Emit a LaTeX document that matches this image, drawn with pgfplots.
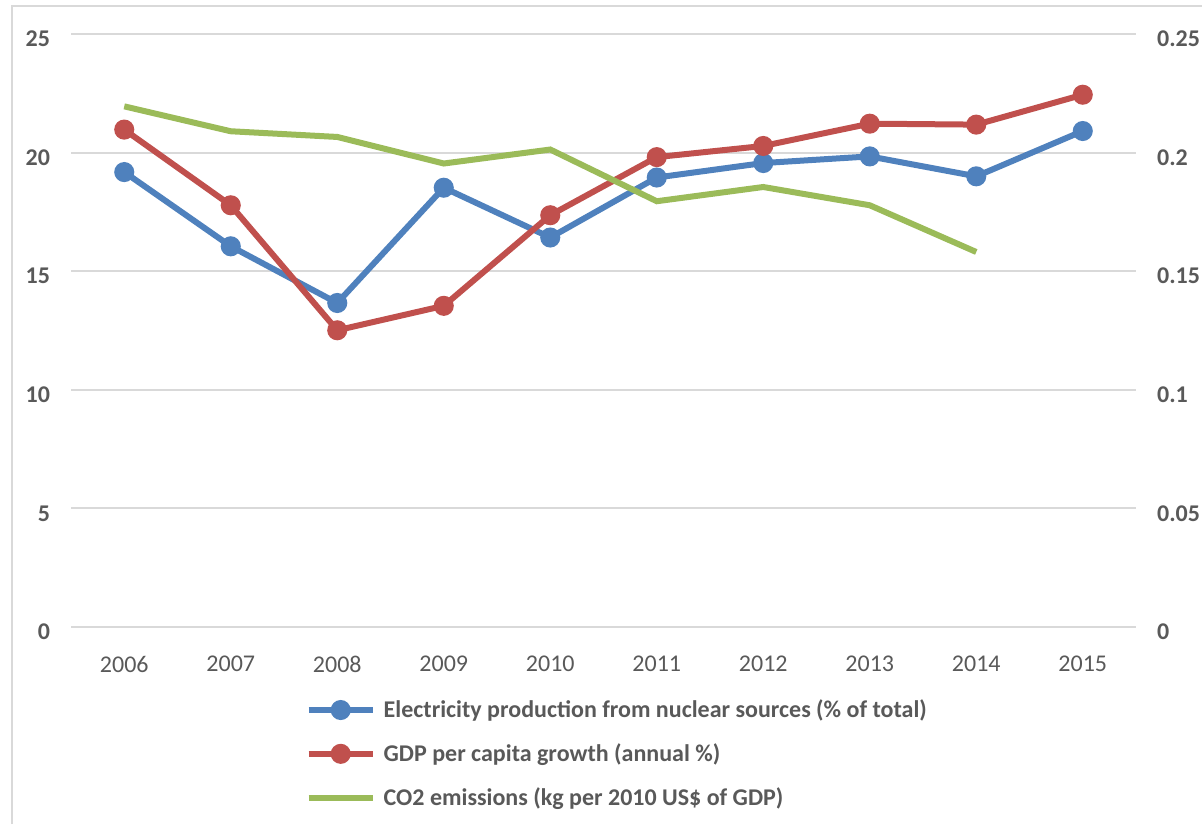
\documentclass[border=0pt]{standalone}
\usepackage{pgfplots}
\pgfplotsset{compat=1.18}
\usepackage{fontspec}
\setmainfont{Carlito}
\definecolor{cblue}{HTML}{4F81BD}
\definecolor{cred}{HTML}{C0504D}
\definecolor{cgreen}{HTML}{9BBB59}
\definecolor{ctext}{HTML}{595959}
\definecolor{cgrid}{HTML}{D9D9D9}
\begin{document}
\begin{tikzpicture}
\path[use as bounding box] (0pt,0pt) rectangle (601pt,-412pt);
\draw[cgrid, line width=1pt] (6pt,-412pt) -- (6pt,-3pt) -- (601pt,-3pt);
\begin{axis}[
  at={(35.5pt,-313.5pt)}, anchor=south west,
  scale only axis, width=532.5pt, height=296.5pt,
  xmin=-0.5, xmax=9.5, ymin=0, ymax=25,
  xtick={0,...,9},
  xticklabels={2006,2007,2008,2009,2010,2011,2012,2013,2014,2015},
  ytick={0,5,10,15,20,25},
  yticklabels={0,5,10,15,20,25},
  /pgf/number format/assume math mode=true,
  axis line style={draw=none},
  tick style={draw=none},
  ymajorgrids, grid style={cgrid, line width=1pt},
  xticklabel style={font=\fontsize{12}{14}\selectfont, text=ctext, yshift=-11pt},
  yticklabel style={font=\fontsize{12}{14}\selectfont\bfseries, text=ctext, xshift=-7pt, yshift=-2.5pt},
  clip=false,
  legend cell align=left,
  legend style={at={(axis description cs:0.22,-0.115)}, anchor=north west,
    draw=none, fill=none, inner sep=0pt,
    font=\fontsize{12}{14}\selectfont\bfseries, text=ctext,
    row sep=7.5pt, nodes={inner xsep=4pt}},
  legend image code/.code={\draw[#1, mark repeat=2, mark phase=2] plot coordinates {(0pt,0pt) (16pt,0pt) (32pt,0pt)};},
]
\addplot[cblue, line width=3pt, mark=*, mark size=3.5pt, mark options={solid}] coordinates {
(0,19.18) (1,16.05) (2,13.66) (3,18.52) (4,16.42) (5,18.95) (6,19.56) (7,19.84) (8,19.00) (9,20.91)};
\addlegendentry{Electricity production from nuclear sources (\% of total)}
\addplot[cred, line width=3pt, mark=*, mark size=3.5pt, mark options={solid}] coordinates {
(0,20.97) (1,17.78) (2,12.51) (3,13.54) (4,17.36) (5,19.81) (6,20.28) (7,21.22) (8,21.18) (9,22.44)};
\addlegendentry{GDP per capita growth (annual \%)}
\addlegendimage{cgreen, line width=3pt}
\addlegendentry{CO2 emissions (kg per 2010 US\$ of GDP)}
\end{axis}
\begin{axis}[
  at={(35.5pt,-313.5pt)}, anchor=south west,
  scale only axis, width=532.5pt, height=296.5pt,
  xmin=-0.5, xmax=9.5, ymin=0, ymax=0.25,
  axis y line*=right, axis x line=none,
  ytick={0,0.05,0.1,0.15,0.2,0.25},
  yticklabels={0,0.05,0.1,0.15,0.2,0.25},
  /pgf/number format/assume math mode=true,
  axis line style={draw=none},
  tick style={draw=none},
  yticklabel style={font=\fontsize{12}{14}\selectfont\bfseries, text=ctext, xshift=7pt, yshift=-2.5pt},
  clip=false,
]
\addplot[cgreen, line width=3pt, mark=none] coordinates {
(0,0.2195) (1,0.2090) (2,0.2066) (3,0.1954) (4,0.2013) (5,0.1795) (6,0.1855) (7,0.1778) (8,0.1581)};
\end{axis}
\end{tikzpicture}
\end{document}
